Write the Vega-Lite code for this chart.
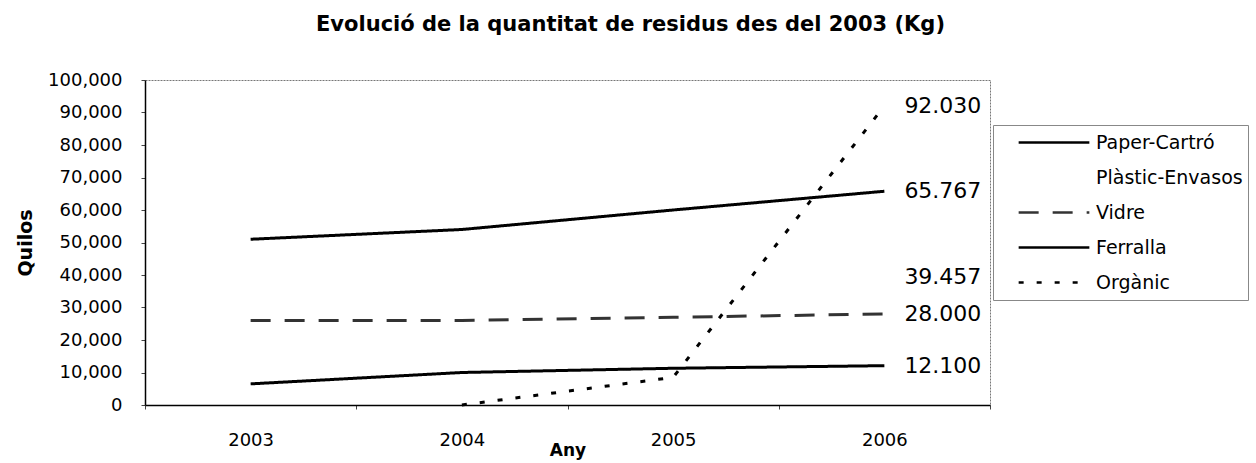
{
  "$schema": "https://vega.github.io/schema/vega-lite/v6.json",
  "autosize": "none",
  "padding": {"left": 145, "top": 80, "right": 266, "bottom": 58},
  "width": 845,
  "height": 325,
  "background": "white",
  "title": {
    "text": "Evolució de la quantitat de residus des del 2003 (Kg)",
    "font": "DejaVu Sans",
    "fontSize": 21,
    "fontWeight": "bold",
    "color": "black",
    "offset": 36,
    "dx": 63
  },
  "config": {
    "view": {"stroke": "#777", "strokeWidth": 1, "strokeDash": [2, 1]},
    "font": "DejaVu Sans"
  },
  "data": {
    "values": [
      {"year": "2003", "series": "Paper-Cartró", "kg": 51000},
      {"year": "2004", "series": "Paper-Cartró", "kg": 54000},
      {"year": "2005", "series": "Paper-Cartró", "kg": 60000},
      {"year": "2006", "series": "Paper-Cartró", "kg": 65767},
      {"year": "2006", "series": "Plàstic-Envasos", "kg": 39457},
      {"year": "2003", "series": "Vidre", "kg": 26000},
      {"year": "2004", "series": "Vidre", "kg": 26000},
      {"year": "2005", "series": "Vidre", "kg": 27000},
      {"year": "2006", "series": "Vidre", "kg": 28000},
      {"year": "2003", "series": "Ferralla", "kg": 6500},
      {"year": "2004", "series": "Ferralla", "kg": 10000},
      {"year": "2005", "series": "Ferralla", "kg": 11300},
      {"year": "2006", "series": "Ferralla", "kg": 12100},
      {"year": "2004", "series": "Orgànic", "kg": 0},
      {"year": "2005", "series": "Orgànic", "kg": 8500},
      {"year": "2006", "series": "Orgànic", "kg": 92030}
    ]
  },
  "encoding": {
    "x": {
      "field": "year",
      "type": "ordinal",
      "bandPosition": 0.5,
      "scale": {"type": "band", "paddingInner": 0, "paddingOuter": 0},
      "axis": {
        "title": "Any",
        "titleFont": "DejaVu Sans",
        "titleFontSize": 17,
        "titleFontWeight": "bold",
        "titleColor": "black",
        "titlePadding": -7,
        "labelAngle": 0,
        "labelFontSize": 18,
        "labelColor": "black",
        "labelPadding": 22,
        "tickBand": "extent",
        "tickSize": 4,
        "tickColor": "#444",
        "domainColor": "black",
        "domainWidth": 1.5,
        "grid": false
      }
    },
    "y": {
      "field": "kg",
      "type": "quantitative",
      "scale": {"domain": [0, 100000]},
      "axis": {
        "title": "Quilos",
        "titleFontSize": 19,
        "titleFontWeight": "bold",
        "titleColor": "black",
        "titlePadding": 12,
        "values": [0, 10000, 20000, 30000, 40000, 50000, 60000, 70000, 80000, 90000, 100000],
        "format": ",d",
        "labelFontSize": 18,
        "labelColor": "black",
        "labelPadding": 19,
        "tickSize": 4,
        "tickColor": "#444",
        "domainColor": "black",
        "domainWidth": 1.5,
        "grid": false
      }
    }
  },
  "layer": [
    {
      "mark": {"type": "line", "strokeWidth": 3},
      "encoding": {
        "color": {
          "field": "series",
          "type": "nominal",
          "scale": {
            "domain": ["Paper-Cartró", "Plàstic-Envasos", "Vidre", "Ferralla", "Orgànic"],
            "range": ["black", "white", "#333", "black", "black"]
          },
          "legend": {
            "title": null,
            "orient": "none",
            "legendX": 848,
            "legendY": 45,
            "symbolType": "stroke",
            "symbolSize": 5000,
            "symbolStrokeWidth": 2.5,
            "symbolOffset": 19,
            "clipHeight": 25,
            "labelFontSize": 19,
            "labelColor": "black",
            "labelOffset": 5,
            "rowPadding": 10,
            "padding": 5,
            "strokeColor": "#888"
          }
        },
        "strokeDash": {
          "field": "series",
          "type": "nominal",
          "scale": {
            "domain": ["Paper-Cartró", "Plàstic-Envasos", "Vidre", "Ferralla", "Orgànic"],
            "range": [[1, 0], [1, 0], [20, 14], [1, 0], [5, 13]]
          },
          "legend": null
        }
      }
    },
    {
      "transform": [
        {"filter": "datum.year == '2006'"},
        {"calculate": "replace(format(datum.kg, ','), ',', '.')", "as": "lbl"}
      ],
      "mark": {"type": "text", "align": "left", "dx": 20, "fontSize": 22, "color": "black", "baseline": "middle"},
      "encoding": {
        "text": {"field": "lbl"}
      }
    }
  ]
}
